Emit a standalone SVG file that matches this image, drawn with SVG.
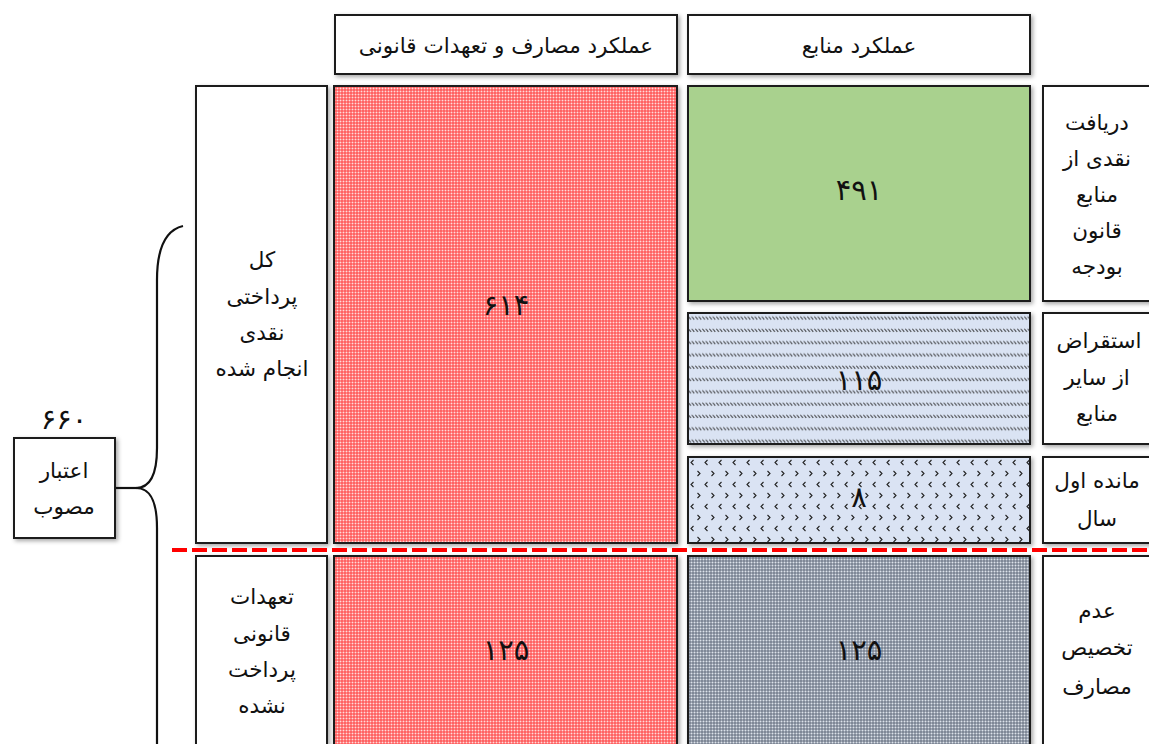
<svg xmlns="http://www.w3.org/2000/svg" width="1149" height="744" viewBox="0 0 1149 744">
<style>
.box{stroke:#1e1e1e;stroke-width:2;filter:url(#sh)}
.t{font-family:"DejaVu Sans","Noto Sans",sans-serif;font-size:21.5px;fill:#111;text-anchor:middle;dominant-baseline:central}
.n{font-family:"DejaVu Sans","Noto Sans",sans-serif;font-size:29px;fill:#111;text-anchor:middle;dominant-baseline:central}
</style>
<defs>
<filter id="sh" x="-10%" y="-10%" width="130%" height="130%">
<feDropShadow dx="2" dy="2" stdDeviation="2" flood-color="#000" flood-opacity="0.35"/>
</filter>
<pattern id="red" width="3" height="3" patternUnits="userSpaceOnUse">
<rect width="3" height="3" fill="#ff3a3a"/>
<rect x="0.5" y="0.5" width="2" height="2" fill="#ffffff" opacity="0.82"/>
</pattern>
<pattern id="gray" width="3" height="3" patternUnits="userSpaceOnUse">
<rect width="3" height="3" fill="#4a5668"/>
<rect x="0.4" y="0.4" width="2.2" height="2.2" fill="#dce2ea"/>
</pattern>
<pattern id="hatch" x="688" y="313" width="3.5" height="12.3" patternUnits="userSpaceOnUse">
<rect width="3.5" height="12.3" fill="#dae3f3"/>
<line x1="0.3" y1="3.5" x2="2.8" y2="6.5" stroke="#2a2a2a" stroke-width="0.9"/>
</pattern>
<pattern id="chev" x="688" y="457" width="14" height="22" patternUnits="userSpaceOnUse">
<rect width="14" height="22" fill="#dae3f3"/>
<polyline points="5.5,3 3,5.5 5.5,8" fill="none" stroke="#222" stroke-width="1.1"/>
<polyline points="9.5,14 12,16.5 9.5,19" fill="none" stroke="#222" stroke-width="1.1"/>
</pattern>
</defs>

<g id="header-expenses">
<rect class="box" x="335" y="15" width="342" height="59" fill="#fff"/>
<text class="t" x="506" y="45">عملکرد مصارف و تعهدات قانونی</text>
</g>
<g id="header-resources">
<rect class="box" x="688" y="15" width="342" height="59" fill="#fff"/>
<text class="t" x="859" y="45">عملکرد منابع</text>
</g>

<g id="label-paid">
<rect class="box" x="196" y="86" width="131" height="457" fill="#fff"/>
<text class="t" x="262" y="259">کل</text>
<text class="t" x="262" y="296">پرداختی</text>
<text class="t" x="262" y="332">نقدی</text>
<text class="t" x="262" y="368">انجام شده</text>
</g>
<g id="label-unpaid">
<rect class="box" x="196" y="556" width="131" height="200" fill="#fff"/>
<text class="t" x="262" y="596">تعهدات</text>
<text class="t" x="262" y="633">قانونی</text>
<text class="t" x="262" y="669">پرداخت</text>
<text class="t" x="262" y="705">نشده</text>
</g>

<g id="exp-paid">
<rect class="box" x="334" y="86" width="343" height="457" fill="url(#red)"/>
<text class="n" x="506" y="305">۶۱۴</text>
</g>
<g id="exp-unpaid">
<rect class="box" x="334" y="556" width="343" height="200" fill="url(#red)"/>
<text class="n" x="506" y="650">۱۲۵</text>
</g>

<g id="res-budget">
<rect class="box" x="688" y="86" width="342" height="215" fill="#a9d18e"/>
<text class="n" x="859" y="190">۴۹۱</text>
</g>
<g id="res-borrow">
<rect class="box" x="688" y="313" width="342" height="131" fill="url(#hatch)"/>
<text class="n" x="859" y="380">۱۱۵</text>
</g>
<g id="res-balance">
<rect class="box" x="688" y="457" width="342" height="86" fill="url(#chev)"/>
<text class="n" x="859" y="497">۸</text>
</g>
<g id="res-unallocated">
<rect class="box" x="688" y="556" width="342" height="200" fill="url(#gray)"/>
<text class="n" x="859" y="650">۱۲۵</text>
</g>

<g id="lbl-budget">
<rect class="box" x="1043" y="86" width="115" height="215" fill="#fff"/>
<text class="t" x="1097" y="122">دریافت</text>
<text class="t" x="1097" y="158">نقدی از</text>
<text class="t" x="1097" y="194">منابع</text>
<text class="t" x="1097" y="230">قانون</text>
<text class="t" x="1097" y="266">بودجه</text>
</g>
<g id="lbl-borrow">
<rect class="box" x="1043" y="313" width="115" height="131" fill="#fff"/>
<text class="t" x="1099" y="340">استقراض</text>
<text class="t" x="1097" y="377">از سایر</text>
<text class="t" x="1097" y="413">منابع</text>
</g>
<g id="lbl-balance">
<rect class="box" x="1043" y="457" width="115" height="86" fill="#fff"/>
<text class="t" x="1097" y="480">مانده اول</text>
<text class="t" x="1097" y="518">سال</text>
</g>
<g id="lbl-unallocated">
<rect class="box" x="1043" y="556" width="115" height="200" fill="#fff"/>
<text class="t" x="1097" y="610">عدم</text>
<text class="t" x="1097" y="647">تخصیص</text>
<text class="t" x="1097" y="686">مصارف</text>
</g>

<g id="approved">
<text class="n" x="64" y="419">۶۶۰</text>
<rect class="box" x="14" y="438" width="101" height="100" fill="#fff"/>
<text class="t" x="64" y="470">اعتبار</text>
<text class="t" x="64" y="506">مصوب</text>
</g>

<g id="connectors" fill="none" stroke="#111" stroke-width="2.2">
<path d="M183,226 C166,230 157,248 157,280 L157,448 C157,475 150,488 136,488 C150,488 157,500 157,528 L157,760"/>
<line x1="116" y1="488" x2="137" y2="488"/>
<line x1="172" y1="550" x2="1149" y2="550" stroke="#ff0000" stroke-width="4" stroke-dasharray="15 5"/>
</g>
</svg>
